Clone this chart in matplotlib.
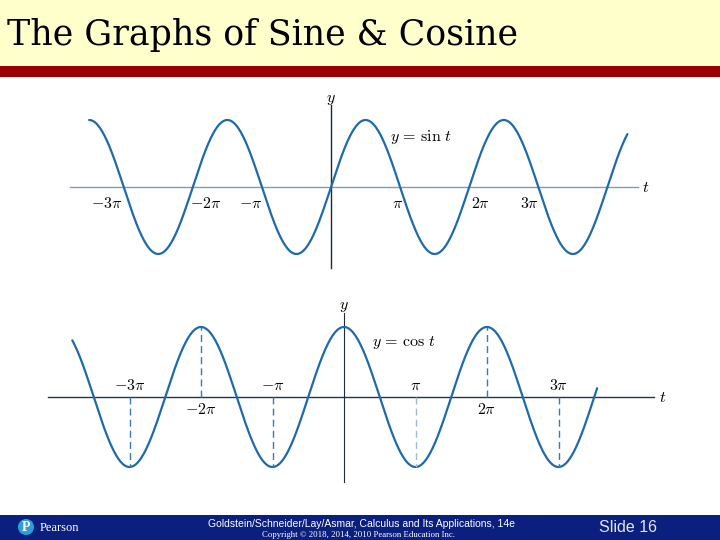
import numpy as np
import matplotlib
matplotlib.use("Agg")
import matplotlib.pyplot as plt
from matplotlib.patches import Rectangle, Circle

plt.rcParams['mathtext.fontset'] = 'cm'

# slide text
title = "The Graphs of Sine & Cosine"
footer_line1 = "Goldstein/Schneider/Lay/Asmar, Calculus and Its Applications, 14e"
footer_line2 = "Copyright \u00a9 2018, 2014, 2010 Pearson Education Inc."
slide_no = "Slide 16"

# sine graph: t range (in multiples of pi) and tick labels
sin_range = [-3.5, 4.29]
sin_ticks = [-3, -2, -1, 1, 2, 3]
sin_labels = [r'$-3\pi$', r'$-2\pi$', r'$-\pi$', r'$\pi$', r'$2\pi$', r'$3\pi$']

# cosine graph
cos_range = [-3.80, 3.54]
cos_ticks = [-3, -2, -1, 1, 2, 3]
cos_labels = [r'$-3\pi$', r'$-2\pi$', r'$-\pi$', r'$\pi$', r'$2\pi$', r'$3\pi$']

W, H = 720, 540
fig = plt.figure(figsize=(7.2, 5.4), dpi=100)
fig.patch.set_facecolor('white')

BLUE = '#1f6aa8'


def place(x0, x1, y0, y1, cx, cy, sx, sy):
    # axes box in pixels, origin at (cx, cy), sx px per pi, sy px per unit
    ax = fig.add_axes([x0 / W, 1 - y1 / H, (x1 - x0) / W, (y1 - y0) / H])
    ax.set_xlim((x0 - cx) / sx, (x1 - cx) / sx)
    ax.set_ylim((cy - y1) / sy, (cy - y0) / sy)
    ax.axis('off')
    return ax


# background bands
bg = fig.add_axes([0, 0, 1, 1])
bg.set_xlim(0, W)
bg.set_ylim(H, 0)
bg.axis('off')
bg.add_patch(Rectangle((0, 0), W, 66, color='#ffffcc', lw=0))
bg.add_patch(Rectangle((0, 66), W, 11, color='#990000', lw=0))
bg.add_patch(Rectangle((0, 515), W, 25, color='#0b1f7e', lw=0))
bg.text(7, 35, title, family='DejaVu Serif', fontsize=25, va='center', ha='left')
bg.text(361, 524, footer_line1, family='Liberation Sans', fontsize=7.5,
        color='white', ha='center', va='center')
bg.text(358, 535, footer_line2, family='Liberation Serif', fontsize=6.3,
        color='white', ha='center', va='center')
bg.text(628, 527, slide_no, family='Liberation Sans', fontsize=11.5,
        color='#e6e6e6', ha='center', va='center')
bg.add_patch(Circle((26, 527), 8, color='#2a9fd8', lw=0))
bg.text(26, 527.5, 'P', family='Liberation Serif', fontsize=10, fontweight='bold',
        color='white', ha='center', va='center')
bg.text(40, 528, 'Pearson', family='Liberation Serif', fontsize=9,
        color='white', ha='left', va='center')

# ---- sine ----
ax1 = place(60, 665, 88, 285, 331, 187, 69.1, 67)
ax1.plot([-3.777, 4.443], [0, 0], color='#7d9cb5', lw=1.0)
ax1.plot([0, 0], [-1.21, 1.22], color='#1c2b3a', lw=1.0)
t = np.linspace(sin_range[0], sin_range[1], 800)
ax1.plot(t, np.sin(t * np.pi), color=BLUE, lw=1.6, solid_capstyle='round')
sin_off = [-0.25, 0.19, -0.16, -0.04, 0.16, -0.12]
for v, lab, o in zip(sin_ticks, sin_labels, sin_off):
    ax1.text(v + o, -0.13, lab, fontsize=11.5, ha='center', va='top')
ax1.text(4.55, 0, r'$t$', fontsize=11.5, ha='center', va='center')
ax1.text(0, 1.30, r'$y$', fontsize=11.5, ha='center', va='center')
ax1.text(1.3, 0.74, r'$y\,=\,\sin\,t$', fontsize=11.5, ha='center', va='center')

# ---- cosine ----
ax2 = place(40, 675, 295, 490, 344, 397, 71.5, 70)
ax2.plot([-4.14, 4.34], [0, 0], color='#1f3550', lw=1.0)
ax2.plot([0, 0], [-1.21, 1.20], color='#1c2b3a', lw=0.8)
t = np.linspace(cos_range[0], cos_range[1], 800)
ax2.plot(t, np.cos(t * np.pi), color=BLUE, lw=1.6, solid_capstyle='round')
for v, lab in zip(cos_ticks, cos_labels):
    c = np.cos(v * np.pi)
    col = '#9fbcd4' if v == 1 else '#3a7ab0'
    ax2.plot([v, v], [0, c], color=col, lw=1.0, ls=(0, (5, 3)))
    if c < 0:
        ax2.text(v, 0.06, lab, fontsize=11.5, ha='center', va='bottom')
    else:
        ax2.text(v, -0.07, lab, fontsize=11.5, ha='center', va='top')
ax2.text(4.46, 0, r'$t$', fontsize=11.5, ha='center', va='center')
ax2.text(0, 1.29, r'$y$', fontsize=11.5, ha='center', va='center')
ax2.text(0.84, 0.78, r'$y\,=\,\cos\,t$', fontsize=11.5, ha='center', va='center')

fig.savefig('out.png', dpi=100)
